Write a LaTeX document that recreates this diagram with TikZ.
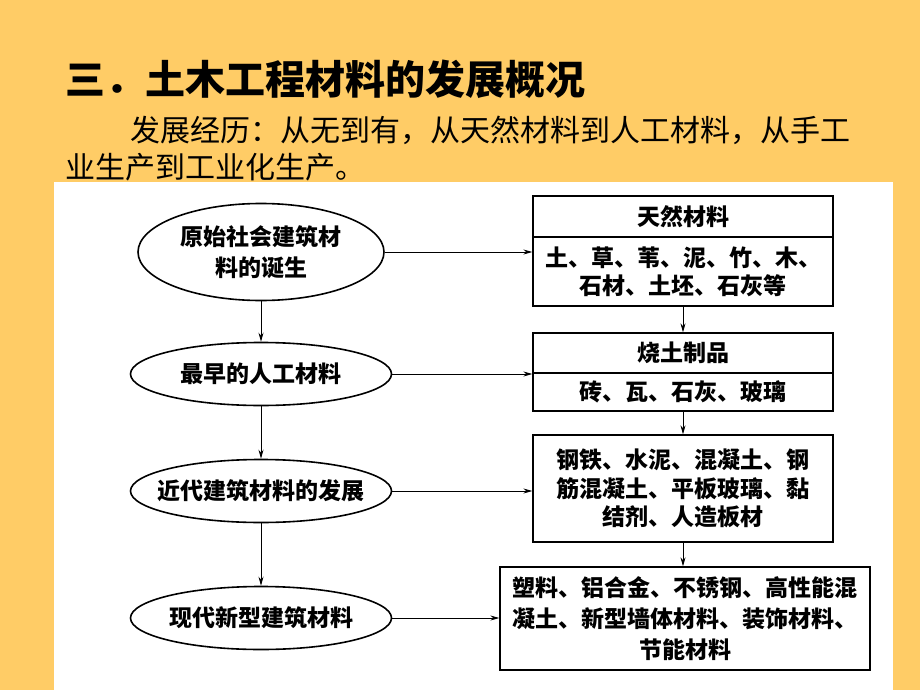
\documentclass[tikz,border=0pt]{standalone}
\usepackage{fontspec}
\newfontfamily\cjk{Noto Sans CJK SC}
\usetikzlibrary{shapes.geometric,arrows.meta}
\definecolor{bgorange}{HTML}{FFCC66}
\newcommand{\zw}[1]{\makebox[0pt][c]{#1}}
\begin{document}
\begin{tikzpicture}[x=1pt,y=-1pt,
  oval/.style={ellipse,draw=black,line width=1.6pt,inner sep=0pt,align=center,
    minimum width=261pt,minimum height=63pt,font=\cjk\bfseries\fontsize{23}{31}\selectfont},
  matbox/.style={rectangle,draw=black,line width=1.3pt,inner sep=0pt,align=center,
    minimum width=300pt,font=\cjk\bfseries\fontsize{23}{28.5}\selectfont},
  link/.style={draw=black,line width=0.9pt,-{Stealth[length=9pt,width=5pt]}},
  heading/.style={anchor=base west,inner sep=0pt,font=\cjk\bfseries\fontsize{40}{40}\selectfont},
  bodytext/.style={anchor=base west,inner sep=0pt,font=\cjk\fontsize{30}{30}\selectfont}]
\useasboundingbox (0,0) rectangle (920,690);
\fill[bgorange] (0,0) rectangle (920,690);
\fill[white] (54,182) rectangle (893,690);

\node[heading] (title) at (65,95) {三．土木工程材料的发展概况};
\node[bodytext] (sub1) at (130,141) {发展经历：从无到有，从天然材料到人工材料，从手工};
\node[bodytext] (sub2) at (65,178) {业生产到工业化生产。};

\node[oval,minimum width=246pt,minimum height=97pt] (e1) at (261,252) {\zw{原始社会建筑材}\\\zw{料的诞生}};
\node[oval] (e2) at (261,374) {\zw{最早的人工材料}};
\node[oval] (e3) at (261,491) {\zw{近代建筑材料的发展}};
\node[oval] (e4) at (261,618) {\zw{现代新型建筑材料}};

\node[matbox,minimum height=41pt] (b1t) at (683,216.5) {天然材料};
\node[matbox,minimum height=69pt,font=\cjk\bfseries\fontsize{23}{28}\selectfont] (b1b) at (683,271.5) {土、草、苇、泥、竹、木、\\石材、土坯、石灰等};
\node[matbox,minimum height=40pt] (b2t) at (683,353) {烧土制品};
\node[matbox,minimum height=38pt] (b2b) at (683,392) {砖、瓦、石灰、玻璃};
\node[matbox,minimum height=107pt] (b3) at (683,488.5) {钢铁、水泥、混凝土、钢\\筋混凝土、平板玻璃、黏\\结剂、人造板材};
\node[matbox,minimum width=370pt,minimum height=103pt,font=\cjk\bfseries\fontsize{23}{31}\selectfont] (b4) at (685,618.5) {塑料、铝合金、不锈钢、高性能混\\凝土、新型墙体材料、装饰材料、\\节能材料};

\draw[link] (e1.south) -- (e2.north);
\draw[link] (e2.south) -- (e3.north);
\draw[link] (e3.south) -- (e4.north);
\draw[link] (e1.east) -- (e1.east -| b1b.west);
\draw[link] (e2.east) -- (e2.east -| b2t.west);
\draw[link] (e3.east) -- (e3.east -| b3.west);
\draw[link] (e4.east) -- (e4.east -| b4.west);
\draw[link] (b1b.south) -- (b2t.north);
\draw[link] (b2b.south) -- (b3.north);
\draw[link] (b3.south) -- (b3.south |- b4.north);
\end{tikzpicture}
\end{document}
